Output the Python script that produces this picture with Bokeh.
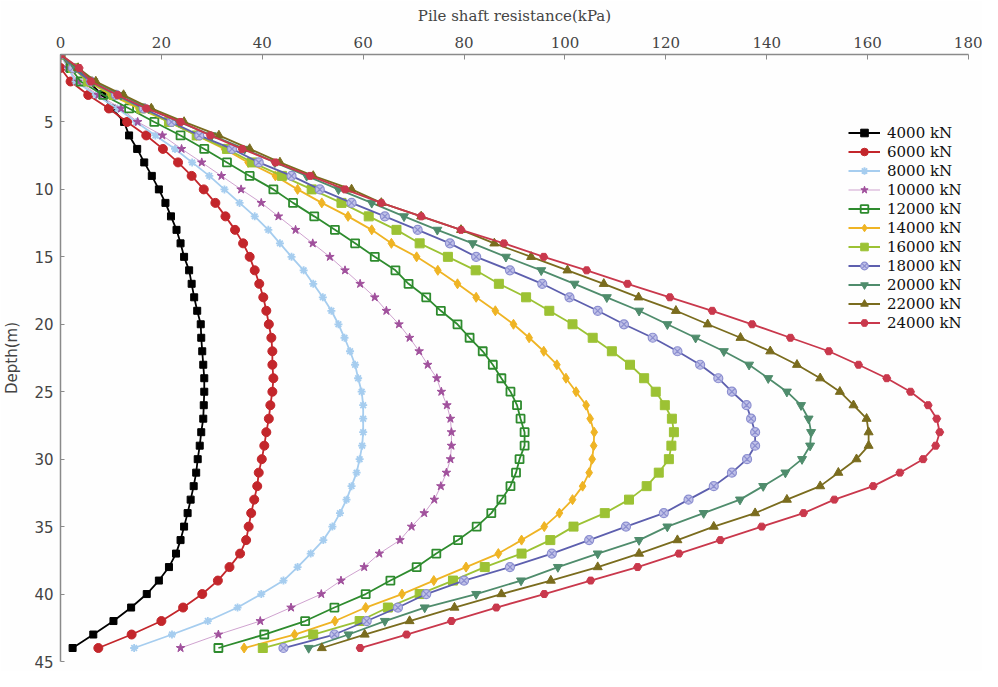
from bokeh.plotting import figure
from bokeh.models import Range1d, FixedTicker, Legend
from bokeh.embed import file_html
from bokeh.resources import INLINE

depth = list(range(0, 45))
x_ticks = [0, 20, 40, 60, 80, 100, 120, 140, 160, 180]
y_ticks = [5, 10, 15, 20, 25, 30, 35, 40, 45]

s4000 = [0, 3, 5.5, 8.3, 10.2, 12.6, 13.6, 15.2, 16.6, 18.1, 19.5, 20.8, 21.9, 23, 23.8, 24.5, 25.5, 26, 26.5, 27.1,
         27.8, 27.9, 28.1, 28.3, 28.5, 28.5, 28.4, 28.3, 27.9, 27.6, 27.2, 26.9, 26.4, 25.8, 25.2, 24.5, 23.8, 22.9,
         21.5, 19.5, 17.1, 14.0, 10.5, 6.5, 2.4]
s6000 = [0, 0, 2, 5.5, 9.6, 13.2, 17, 20.3, 23.3, 26, 28.4, 30.7, 32.7, 34.6, 36.2, 37.5, 38.5, 39.4, 40.2, 40.8,
         41.3, 41.8, 42, 42, 42.2, 42, 41.6, 41.3, 40.8, 40.4, 39.9, 39.3, 39, 38.4, 37.8, 37.3, 36.8, 35.6,
         33.5, 31.2, 28.1, 24.3, 20, 14.1, 7.5]
s8000 = [0, 1.5, 3, 7, 11.3, 15, 18.8, 22.7, 26.1, 29.5, 32.5, 35.5, 38.5, 41.2, 43.5, 45.8, 48.2, 50.1, 52, 53.7,
         55.1, 56.3, 57.4, 58.4, 59, 59.7, 60, 60, 60, 59.8, 59.3, 58.7, 57.7, 56.7, 55.4, 53.9, 52.1, 49.6,
         47, 44.2, 39.8, 35.1, 29.2, 22.1, 14.6]
s10000 = [0, 1.5, 3.5, 7.5, 12, 15.3, 20.2, 24, 28, 31.9, 35.8, 39.8, 43.2, 46.6, 50, 53.4, 56.4, 59.4, 62.3, 64.6,
          67.1, 69.2, 71.1, 72.8, 74.6, 75.5, 76.6, 77.3, 77.5, 77.5, 77.3, 76.5, 75.4, 74.1, 72.1, 69.6, 67.3, 63.2,
          60.2, 55.6, 51.7, 45.7, 39.6, 31.3, 23.8]
s12000 = [0, 2, 4, 8.5, 13.6, 18.6, 23.8, 28.5, 33, 37.5, 42.2, 46.1, 50.3, 54.4, 58.4, 62.3, 66.4, 69, 72.5, 75.4,
          78.7, 81.1, 83.7, 85.7, 87.4, 89.2, 90.5, 91.2, 92, 92, 91, 90.3, 89.2, 87.4, 85.4, 82.5, 78.8, 74.5,
          70.6, 65.4, 60.5, 54.3, 48.5, 40.4, 31.3]
s14000 = [0, 2.5, 5.5, 10, 15.5, 21.5, 27, 32.5, 37.2, 42.6, 47, 51.8, 57, 61.7, 65.6, 70.6, 74.8, 78.7, 82.4, 86.2,
          89.8, 92.9, 95.8, 98.4, 100.2, 102.2, 104.2, 105, 105.8, 105.7, 105.4, 104.8, 103.5, 101.5, 98.9, 95.9,
          91.4, 86.8, 80.4, 74, 67.7, 60.5, 54.4, 46.4, 36.4]
s16000 = [0, 2.5, 5.5, 10.5, 16, 21.5, 27, 33, 38, 43.9, 49.8, 55.7, 61.1, 66.6, 71.2, 76.8, 82.3, 86.9, 92.3, 96.9,
          101.5, 105.5, 109.3, 112.9, 115.7, 118, 119.8, 121.2, 121.6, 121.1, 120.6, 118.6, 116.2, 112.7, 107.9,
          101.7, 97.1, 91.4, 84.1, 77.8, 71.2, 64.9, 59.3, 50.1, 40.1]
s18000 = [0, 2.5, 6, 11, 16.5, 22, 27.5, 34, 39.3, 45.8, 51.4, 57.7, 64.3, 70.8, 77.2, 82.4, 89.1, 95.5, 100.9, 106.5,
          111.7, 117.4, 122.3, 126.8, 130.4, 133.1, 136, 136.9, 137.7, 137.7, 136.1, 133.1, 129.5, 124.5, 119.6,
          112.1, 104.8, 97.4, 89.1, 80, 72.5, 66.9, 60.7, 54.3, 44.2]
s20000 = [0, 3, 6.5, 12, 17.5, 23.5, 30, 36.5, 42.5, 48.8, 55.1, 61.7, 68.1, 74.7, 81.7, 88.3, 95.3, 101.9, 108.3,
          114.7, 120.3, 125.9, 131.5, 136.5, 140.3, 144, 146.8, 148.3, 148.8, 148.6, 147, 143.7, 139.3, 134.7,
          127.5, 120.3, 114.7, 106.5, 98.6, 91.3, 82.4, 72.2, 64.3, 57.1, 49.2]
s22000 = [0, 3.5, 7, 12.5, 18, 24.5, 31.4, 37.5, 43.5, 50.1, 57.7, 63.6, 71.5, 79.4, 86, 93.3, 100.5, 107.7, 114.6,
          122, 128.3, 134.8, 140.7, 146, 150.6, 154.5, 157.2, 159.8, 160.2, 160.2, 157.8, 154.2, 150.6, 144,
          137.7, 129.5, 122.3, 114.7, 106.5, 97.2, 87.4, 78.1, 69.2, 60.3, 51.8]
s24000 = [0, 3.7, 6, 11.3, 17, 23.8, 29.7, 36, 42.6, 49.5, 56.4, 63.6, 71.5, 79.4, 87.9, 95.8, 104.3, 112.4, 120.8,
          129.2, 137.1, 144.7, 152.3, 158.2, 163.8, 168.5, 172, 173.7, 174.3, 173.5, 171, 166.4, 161.1, 153.4,
          147.3, 139, 130.8, 122.6, 114.4, 105.1, 95.9, 86.4, 77.5, 68.6, 59.4]

labels = ["4000 kN", "6000 kN", "8000 kN", "10000 kN", "12000 kN", "14000 kN",
          "16000 kN", "18000 kN", "20000 kN", "22000 kN", "24000 kN"]
series = [s4000, s6000, s8000, s10000, s12000, s14000, s16000, s18000, s20000, s22000, s24000]

styles = [
    # line color, line width, marker, size, marker line color, marker fill color, fill alpha, marker line width
    ("#000000", 1.8, "square", 7, "#000000", "#000000", 1.0, 1),
    ("#c3262b", 1.8, "circle", 9, "#c3262b", "#c3262b", 1.0, 1),
    ("#a6cdef", 1.8, "asterisk", 8, "#a6cdef", "#a6cdef", 1.0, 1.8),
    ("#cfa2cf", 1.0, "star", 9, "#a0509c", "#a0509c", 1.0, 1),
    ("#2e8b2e", 1.8, "square", 8, "#2e8b2e", "#ffffff", 0.0, 1.8),
    ("#efb424", 1.8, "diamond", 10, "#efb424", "#efb424", 1.0, 1),
    ("#9cc234", 1.8, "square", 9, "#9cc234", "#9cc234", 1.0, 1),
    ("#5d5fae", 1.8, "circle_x", 9, "#8c8fd0", "#c0c1e8", 1.0, 1.2),
    ("#4f8c6c", 1.8, "inverted_triangle", 9, "#4f8c6c", "#4f8c6c", 1.0, 1),
    ("#7a6c1e", 1.8, "triangle", 9, "#7a6c1e", "#7a6c1e", 1.0, 1),
    ("#c9384c", 1.8, "hex", 8, "#c9384c", "#c9384c", 1.0, 1),
]

p = figure(width=982, height=671, output_backend="svg", toolbar_location=None,
           x_range=Range1d(0, 180), y_range=Range1d(45, 0),
           x_axis_location="above",
           min_border_left=60, min_border_top=54, min_border_right=14, min_border_bottom=10)
p.outline_line_color = None
p.xgrid.visible = False
p.ygrid.visible = False
p.background_fill_color = "#fefefe"
p.border_fill_color = "#fefefe"

legend_items = []
for vals, lab, st in zip(series, labels, styles):
    lc, lw, mk, sz, mlc, mfc, mfa, mlw = st
    r1 = p.line(vals, depth, line_color=lc, line_width=lw)
    r2 = p.scatter(vals, depth, marker=mk, size=sz, line_color=mlc, fill_color=mfc,
                   fill_alpha=mfa, line_width=mlw)
    legend_items.append((lab, [r1, r2]))

legend = Legend(items=legend_items, location=(788, 329))
legend.label_text_font = "DejaVu Serif"
legend.label_text_font_size = "15px"
legend.label_text_color = "#111111"
legend.label_height = 19
legend.glyph_height = 19
legend.glyph_width = 32
legend.spacing = 0
legend.padding = 0
legend.margin = 0
legend.label_standoff = 7
legend.border_line_alpha = 0
legend.background_fill_alpha = 0
p.add_layout(legend)

xa = p.xaxis[0]
xa.ticker = FixedTicker(ticks=x_ticks)
xa.axis_label = "Pile shaft resistance(kPa)"
xa.axis_label_text_font = "DejaVu Serif"
xa.axis_label_text_font_style = "normal"
xa.axis_label_text_font_size = "15px"
xa.axis_label_standoff = 9
xa.major_label_text_font = "DejaVu Serif"
xa.major_label_text_font_size = "15px"
xa.major_label_standoff = 7
xa.major_tick_in = 5
xa.major_tick_out = 0
xa.minor_tick_in = 0
xa.minor_tick_out = 0
xa.axis_line_color = "#8a8a8a"
xa.axis_line_width = 1.5
xa.major_tick_line_color = "#8a8a8a"

ya = p.yaxis[0]
ya.ticker = FixedTicker(ticks=y_ticks)
ya.axis_label = "Depth(m)"
ya.axis_label_text_font = "DejaVu Sans"
ya.axis_label_text_font_style = "normal"
ya.axis_label_text_font_size = "15px"
ya.axis_label_standoff = 10
ya.major_label_text_font = "DejaVu Sans"
ya.major_label_text_font_size = "15px"
ya.major_label_standoff = 7
ya.major_tick_in = 4
ya.major_tick_out = 0
ya.minor_tick_in = 0
ya.minor_tick_out = 0
ya.axis_line_color = "#8a8a8a"
ya.axis_line_width = 1.5
ya.major_tick_line_color = "#8a8a8a"

open("out.html", "w").write(file_html(p, INLINE))
